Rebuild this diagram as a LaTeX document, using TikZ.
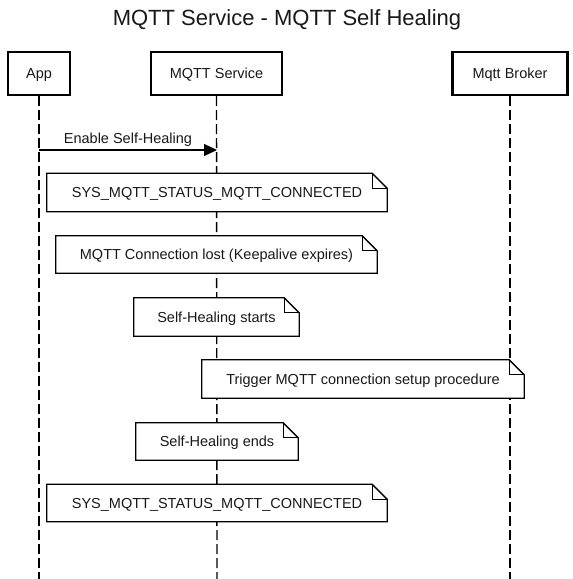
\documentclass[tikz,border=0pt]{standalone}
\usepackage{fontspec}
\setmainfont{Liberation Sans}
\usetikzlibrary{arrows.meta}
\tikzset{
  actor/.style={draw=black, line width=2.2pt, fill=white, inner sep=0pt, font=\fontsize{14.5}{16}\selectfont, text=black!90},
  lifeline/.style={draw=black, line width=1.4pt, dash pattern=on 10pt off 4pt},
  notebox/.style={inner sep=0pt, font=\fontsize{14.5}{16}\selectfont, text=black!90},
  notetext/.style={notebox, yshift=-1.5pt},
  noteline/.style={draw=black, line width=1.3pt, fill=white, line join=miter},
  msg/.style={draw=black, line width=1.2pt, -{Triangle[length=13pt,width=12pt]}},
}
\newcommand{\notebg}[1]{%
  \path[noteline] (#1.north west) -- ([xshift=-15pt]#1.north east) -- ([yshift=-15pt]#1.north east) -- (#1.south east) -- (#1.south west) -- cycle;
  \path[noteline, fill=none] ([xshift=-15pt]#1.north east) -- ([xshift=-15pt,yshift=-15pt]#1.north east) -- ([yshift=-15pt]#1.north east);
}
\begin{document}
\begin{tikzpicture}[x=1pt,y=-1pt]
\useasboundingbox (0,0) rectangle (573,579);
\fill[white] (0,0) rectangle (573,579);
\node[font=\fontsize{22}{24}\selectfont, text=black!90] (title) at (287,20) {MQTT Service - MQTT Self Healing};
% actors
\node[actor, minimum width=62pt, minimum height=43pt] (app) at (39,73.5) {};
\node[actor, minimum width=131pt, minimum height=43pt] (svc) at (216.5,73.5) {};
\node[actor, minimum width=115pt, minimum height=43pt] (brk) at (510,73.5) {};
\coordinate (appEnd) at (39,579);
\coordinate (svcEnd) at (217,579);
\coordinate (brkEnd) at (510,579);
\draw[lifeline] (app.south) -- (appEnd);
\draw[lifeline] (svc.south) -- (svcEnd);
\draw[lifeline] (brk.south) -- (brkEnd);
\node[notetext] (appL) at (app) {App};
\node[notetext] (svcL) at (svc) {MQTT Service};
\node[notetext] (brkL) at (brk) {Mqtt Broker};
% message
\coordinate (m1a) at (39,150);
\coordinate (m1b) at (217,150);
\draw[msg] (m1a) -- node[above=2pt, font=\fontsize{14.5}{16}\selectfont, text=black!90, inner sep=1pt, pos=0.5] (m1lab) {Enable Self-Healing} (m1b);
% notes
\node[notebox, minimum width=340pt, minimum height=38pt] (n1) at (217,192.5) {};
\notebg{n1}
\node[notetext] at (n1) {SYS\_MQTT\_STATUS\_MQTT\_CONNECTED};
\node[notebox, minimum width=321pt, minimum height=37pt] (n2) at (216.5,254.5) {};
\notebg{n2}
\node[notetext] at (n2) {MQTT Connection lost (Keepalive expires)};
\node[notebox, minimum width=165pt, minimum height=38pt] (n3) at (216.5,317) {};
\notebg{n3}
\node[notetext] at (n3) {Self-Healing starts};
\node[notebox, minimum width=322pt, minimum height=38pt] (n4) at (363,379) {};
\notebg{n4}
\node[notetext] at (n4) {Trigger MQTT connection setup procedure};
\node[notebox, minimum width=162pt, minimum height=37pt] (n5) at (217,441.5) {};
\notebg{n5}
\node[notetext] at (n5) {Self-Healing ends};
\node[notebox, minimum width=340pt, minimum height=37pt] (n6) at (217,503) {};
\notebg{n6}
\node[notetext] at (n6) {SYS\_MQTT\_STATUS\_MQTT\_CONNECTED};
\end{tikzpicture}
\end{document}
